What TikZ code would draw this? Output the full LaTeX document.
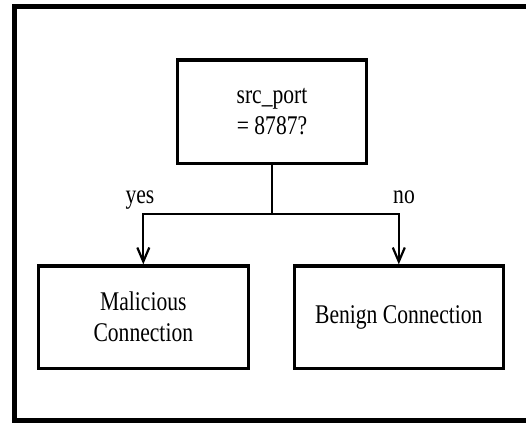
\documentclass[tikz,border=0pt]{standalone}
\usepackage{fontspec}
\setmainfont[FakeStretch=0.8]{Liberation Serif}
\usetikzlibrary{arrows.meta}
\tikzset{
  boxnode/.style={draw, line width=3.3pt, minimum width=#1, minimum height=102.5pt, inner sep=0pt, align=center, font=\fontsize{27}{31}\selectfont},
  conn/.style={line width=2.2pt},
  lbl/.style={anchor=base, inner sep=0pt, font=\fontsize{27}{31}\selectfont},
  arr/.style={-{Straight Barb[length=14pt,width=12pt,line width=2.2pt]}}
}
\begin{document}
\begin{tikzpicture}[x=1pt,y=-1pt]
\clip (0,0) rectangle (526,423);
\fill[white] (0,0) rectangle (526,423);
\draw[line width=5pt] (540,6.5) -- (14.5,6.5) -- (14.5,420.5) -- (540,420.5);
\node[boxnode=189pt, minimum height=103.4pt] (top) at (272,111.7) {src\_port\\= 8787?};
\node[boxnode=210pt] (mal) at (143.3,317.2) {Malicious\\Connection};
\node[boxnode=209pt] (ben) at (398.8,317.2) {Benign Connection};
\coordinate (j) at (272,214.3);
\draw[conn] (top.south) -- (j);
\draw[conn,arr] (j) -| (mal.north);
\draw[conn,arr] (j) -| (ben.north);
\node[lbl] (yes) at (140,203.3) {yes};
\node[lbl] (no) at (404,203.3) {no};
\end{tikzpicture}
\end{document}
